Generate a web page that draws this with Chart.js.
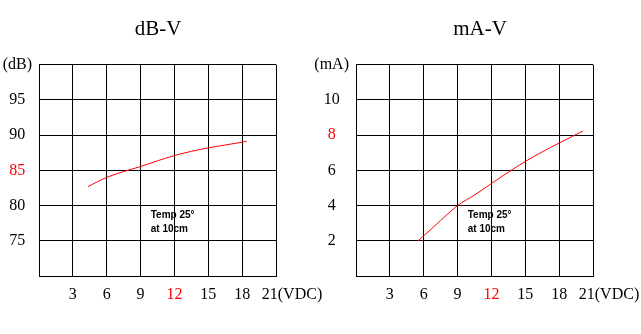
<!DOCTYPE html>
<html>
<head>
<meta charset="utf-8">
<script src="https://cdn.jsdelivr.net/npm/chart.js@4"></script>
<style>
  body { margin: 0; background: #fff; }
  .wrap { position: relative; width: 641px; height: 334px; overflow: hidden; }
  #dbChart { position: absolute; left: 0; top: 0; }
  #maChart { position: absolute; left: 310px; top: 0; }
</style>
</head>
<body>
<div class="wrap">
  <canvas id="dbChart" width="330" height="334"></canvas>
  <canvas id="maChart" width="331" height="334"></canvas>
</div>
<script>
// data
const dbVolts = [4.35, 6, 9, 12, 15, 18, 18.4];
const dbValues = [82.7, 84.0, 85.55, 87.1, 88.2, 89.0, 89.15];

const maVolts = [5.5, 6, 7.5, 9, 10.5, 12, 13.5, 15, 16.5, 18, 20.1];
const maValues = [2.0, 2.28, 3.15, 4.0, 4.6, 5.25, 5.9, 6.5, 7.05, 7.55, 8.23];

const voltTicks = [0, 3, 6, 9, 12, 15, 18, 21];
const dbTicks = [70, 75, 80, 85, 90, 95, 100];
const maTicks = [0, 2, 4, 6, 8, 10, 12];

const redVolt = 12;
const redDb = 85;
const redMa = 8;

const noteLines = ['Temp 25°', 'at 10cm'];

const RED = '#ff0000';
const SERIF = "'Liberation Serif', 'DejaVu Serif', serif";

// little plugin for the "Temp 25° / at 10cm" note
const notePlugin = {
  id: 'note',
  afterDatasetsDraw(chart, args, opts) {
    const c = chart.ctx;
    const x = chart.scales.x.getPixelForValue(opts.x);
    const y = chart.scales.y.getPixelForValue(opts.y);
    c.save();
    c.font = "bold 10px 'Liberation Sans', Arial, sans-serif";
    c.fillStyle = '#000';
    c.textAlign = 'left';
    c.textBaseline = 'top';
    noteLines.forEach((t, i) => c.fillText(t, x, y + i * 14));
    c.restore();
  }
};

function makeChart(id, opt) {
  const points = opt.xs.map((v, i) => ({ x: v, y: opt.ys[i] }));
  return new Chart(document.getElementById(id), {
    type: 'line',
    data: {
      datasets: [{
        data: points,
        borderColor: RED,
        borderWidth: 1,
        pointRadius: 0,
        cubicInterpolationMode: 'monotone',
        fill: false
      }]
    },
    plugins: [notePlugin],
    options: {
      responsive: false,
      animation: false,
      layout: { padding: { left: 0, right: opt.titleRight, top: 0, bottom: 0 } },
      plugins: {
        legend: { display: false },
        tooltip: { enabled: false },
        title: {
          display: true,
          text: opt.title,
          color: '#000',
          font: { family: SERIF, size: 21, weight: 'normal' },
          padding: { top: 17, bottom: 22.5 }
        },
        note: { x: opt.noteX, y: opt.noteY }
      },
      scales: {
        x: {
          type: 'linear',
          min: 0,
          max: 21,
          afterBuildTicks: s => { s.ticks = voltTicks.map(v => ({ value: v })); },
          afterFit: s => { s.height = 58; s.paddingLeft = 0; s.paddingRight = opt.rightPad; },
          grid: { color: '#000', lineWidth: 1, drawTicks: false },
          border: { color: '#000', width: 1 },
          ticks: {
            padding: 9,
            maxRotation: 0,
            autoSkip: false,
            font: { family: SERIF, size: 16 },
            color: c => c.tick && c.tick.value === redVolt ? RED : '#000',
            callback: v => v === 0 ? '' : (v === 21 ? '        21(VDC)' : String(v))
          }
        },
        y: {
          min: opt.yTicks[0],
          max: opt.yTicks[opt.yTicks.length - 1],
          afterBuildTicks: s => { s.ticks = opt.yTicks.map(v => ({ value: v })); },
          afterFit: s => { s.width = opt.axisWidth; s.paddingTop = 0; s.paddingBottom = 0; },
          grid: { color: '#000', lineWidth: 1, drawTicks: false },
          border: { color: '#000', width: 1 },
          ticks: {
            padding: 7,
            crossAlign: 'center',
            autoSkip: false,
            font: { family: SERIF, size: 16 },
            color: c => c.tick && c.tick.value === opt.redY ? RED : '#000',
            callback: v => {
              if (v === opt.yTicks[0]) return '';
              if (v === opt.yTicks[opt.yTicks.length - 1]) return opt.unit;
              return String(v);
            }
          }
        }
      }
    }
  });
}

makeChart('dbChart', {
  title: 'dB-V', xs: dbVolts, ys: dbValues, yTicks: dbTicks, unit: '(dB)',
  redY: redDb, axisWidth: 39, titleRight: 14, rightPad: 54,
  noteX: 9.9, noteY: 79.4
});

makeChart('maChart', {
  title: 'mA-V', xs: maVolts, ys: maValues, yTicks: maTicks, unit: '(mA)',
  redY: redMa, axisWidth: 46, titleRight: -9, rightPad: 48,
  noteX: 9.9, noteY: 3.75
});
</script>
</body>
</html>
